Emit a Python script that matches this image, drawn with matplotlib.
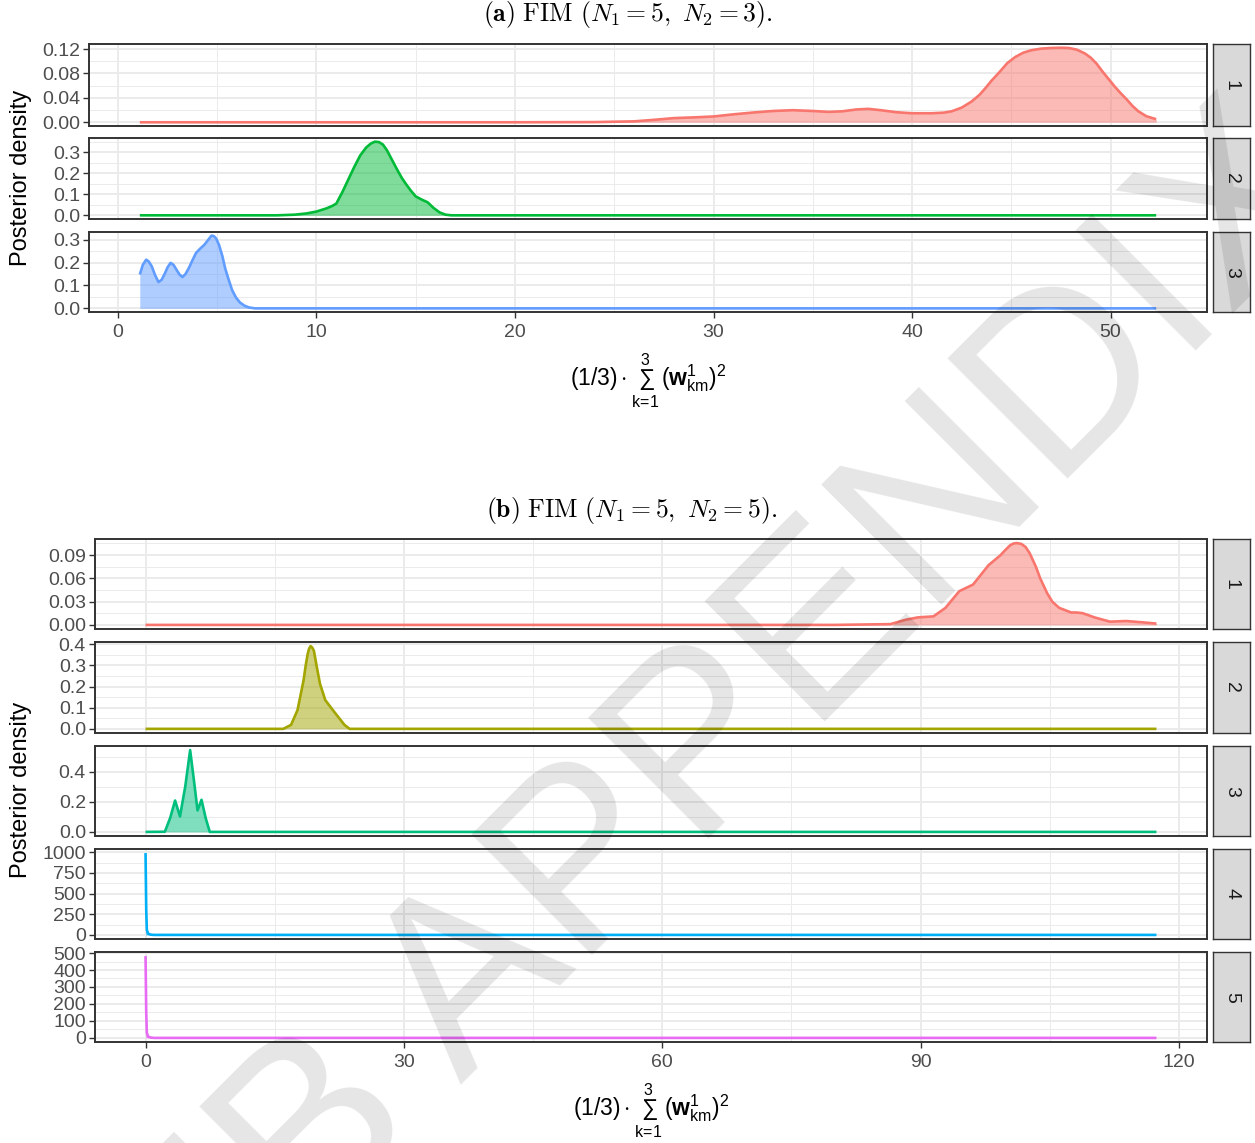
import numpy as np
import matplotlib.pyplot as plt
from matplotlib.ticker import FixedLocator, MultipleLocator

plt.rcParams['font.family'] = ['Liberation Sans', 'DejaVu Sans']
plt.rcParams['mathtext.fontset'] = 'custom'
plt.rcParams['mathtext.rm'] = 'Liberation Sans'
plt.rcParams['mathtext.bf'] = 'Liberation Sans:bold'
plt.rcParams['mathtext.it'] = 'Liberation Sans:italic'

# ---- panel (a): FIM (N1=5, N2=3), 3 components
a1_x = [1.1, 20.0, 24.0, 26.0, 27.0, 28.0, 29.0, 30.0, 31.0, 32.0, 33.0, 34.0, 35.0, 35.8, 36.5,
        37.2, 37.8, 38.5, 39.2, 40.0, 41.0, 41.6, 42.0, 42.5, 43.0, 43.4, 43.7, 44.0, 44.4, 44.8,
        45.2, 45.6, 46.0, 46.5, 47.0, 47.5, 47.9, 48.3, 48.7, 49.0, 49.3, 49.6, 49.9, 50.2, 50.5,
        50.8, 51.1, 51.4, 51.8, 52.3]
a1_y = [0.0, 0.0, 0.0003, 0.0015, 0.004, 0.0068, 0.008, 0.0095, 0.013, 0.016, 0.0185, 0.0198,
        0.0185, 0.017, 0.018, 0.021, 0.022, 0.0195, 0.0165, 0.0148, 0.0148, 0.0158, 0.018, 0.024,
        0.034, 0.045, 0.056, 0.068, 0.082, 0.097, 0.107, 0.114, 0.118, 0.1207, 0.1218, 0.1222,
        0.1218, 0.119, 0.113, 0.106, 0.096, 0.083, 0.071, 0.059, 0.048, 0.038, 0.027, 0.018,
        0.010, 0.005]
a2_x = [1.1, 8.0, 8.9, 9.5, 10.0, 10.5, 10.8, 11.0, 11.3, 11.6, 11.9, 12.2, 12.5, 12.75, 12.95,
        13.15, 13.35, 13.55, 13.8, 14.05, 14.3, 14.5, 14.75, 15.0, 15.3, 15.6, 15.9, 16.2, 16.5,
        16.8, 52.3]
a2_y = [0.0, 0.0, 0.003, 0.009, 0.018, 0.033, 0.045, 0.056, 0.11, 0.17, 0.23, 0.285, 0.323,
        0.343, 0.351, 0.349, 0.337, 0.31, 0.265, 0.22, 0.178, 0.15, 0.118, 0.09, 0.075, 0.062,
        0.035, 0.014, 0.003, 0.0, 0.0]
a3_x = [1.1, 1.25, 1.42, 1.55, 1.7, 1.87, 2.04, 2.2, 2.38, 2.5, 2.65, 2.8, 2.94, 3.1, 3.25,
        3.4, 3.58, 3.75, 3.93, 4.15, 4.35, 4.55, 4.71, 4.83, 4.95, 5.1, 5.26, 5.4, 5.57, 5.75,
        5.94, 6.15, 6.39, 6.6, 6.9, 52.3]
a3_y = [0.148, 0.19, 0.213, 0.205, 0.184, 0.145, 0.115, 0.125, 0.156, 0.18, 0.199, 0.19, 0.170,
        0.148, 0.137, 0.15, 0.178, 0.21, 0.242, 0.262, 0.278, 0.30, 0.318, 0.316, 0.305, 0.275,
        0.228, 0.175, 0.127, 0.08, 0.048, 0.025, 0.011, 0.004, 0.0, 0.0]

# ---- panel (b): FIM (N1=5, N2=5), 5 components
b1_x = [0.0, 80.0, 86.5, 88.3, 89.7, 91.5, 92.9, 94.5, 96.1, 97.9, 99.3, 99.8, 100.4, 100.8,
        101.2, 101.7, 102.2, 102.7, 103.4, 103.9, 104.7, 105.3, 106.1, 107.5, 108.1, 108.8,
        109.5, 110.2, 112.0, 113.9, 115.7, 117.4]
b1_y = [0.0, 0.0, 0.001, 0.0067, 0.0097, 0.011, 0.022, 0.0435, 0.052, 0.077, 0.090, 0.096,
        0.1026, 0.105, 0.1055, 0.1045, 0.1005, 0.092, 0.075, 0.060, 0.041, 0.03, 0.022, 0.016,
        0.016, 0.0152, 0.0125, 0.0097, 0.0042, 0.005, 0.0034, 0.0017]
b2_x = [0.0, 16.0, 16.9, 17.65, 18.35, 18.6, 18.83, 19.0, 19.17, 19.35, 19.55, 19.9, 20.26,
        20.87, 21.9, 23.1, 23.7, 117.4]
b2_y = [0.0, 0.0, 0.019, 0.089, 0.229, 0.30, 0.354, 0.38, 0.391, 0.385, 0.369, 0.29, 0.213,
        0.136, 0.081, 0.019, 0.0, 0.0]
b3_x = [0.0, 2.24, 2.86, 3.43, 4.0, 4.61, 5.18, 5.66, 6.04, 6.5, 6.98, 7.46, 117.4]
b3_y = [0.0, 0.001, 0.093, 0.209, 0.103, 0.302, 0.545, 0.324, 0.143, 0.214, 0.093, 0.0, 0.0]
b4_x = [0.0, 0.08, 0.15, 0.3, 0.6, 1.0, 117.4]
b4_y = [990, 300, 60, 15, 3, 0, 0]
b5_x = [0.0, 0.08, 0.15, 0.3, 0.6, 1.0, 117.4]
b5_y = [482, 150, 30, 8, 2, 0, 0]

a_yticks = [[0, 0.04, 0.08, 0.12], [0, 0.1, 0.2, 0.3], [0, 0.1, 0.2, 0.3]]
a_ylabels = [["0.00", "0.04", "0.08", "0.12"], ["0.0", "0.1", "0.2", "0.3"], ["0.0", "0.1", "0.2", "0.3"]]
b_yticks = [[0, 0.03, 0.06, 0.09], [0, 0.1, 0.2, 0.3, 0.4], [0, 0.2, 0.4],
            [0, 250, 500, 750, 1000], [0, 100, 200, 300, 400, 500]]
b_ylabels = [["0.00", "0.03", "0.06", "0.09"], ["0.0", "0.1", "0.2", "0.3", "0.4"],
             ["0.0", "0.2", "0.4"], ["0", "250", "500", "750", "1000"],
             ["0", "100", "200", "300", "400", "500"]]
a_xticks = [0, 10, 20, 30, 40, 50]
b_xticks = [0, 30, 60, 90, 120]

a_colors = ["#F8766D", "#00BA38", "#619CFF"]
b_colors = ["#F8766D", "#A3A500", "#00BF7D", "#00B0F6", "#E76BF3"]

W, H = 1255, 1143
fig = plt.figure(figsize=(W / 100, H / 100), dpi=100)


def px_axes(x0, y0, x1, y1):
    return fig.add_axes([x0 / W, 1 - y1 / H, (x1 - x0) / W, (y1 - y0) / H])


def facet(rows, xs, ys, cols, yticks, ylabels, xticks, xleft):
    xmin = min(min(x) for x in xs)
    xmax = max(max(x) for x in xs)
    pad = 0.05 * (xmax - xmin)
    xstep = xticks[1] - xticks[0]
    for i, (y0, y1) in enumerate(rows):
        ax = px_axes(xleft, y0, 1207, y1)
        x = np.array(xs[i])
        y = np.array(ys[i])
        ax.fill_between(x, 0, y, color=cols[i], alpha=0.5, lw=0)
        ax.plot(x, y, color=cols[i], lw=1.9, solid_capstyle='butt', solid_joinstyle='round')
        ymax = y.max()
        ax.set_xlim(xmin - pad, xmax + pad)
        ax.set_ylim(-0.05 * ymax, 1.05 * ymax)
        ax.xaxis.set_major_locator(FixedLocator(xticks))
        ax.xaxis.set_minor_locator(MultipleLocator(xstep / 2))
        ax.yaxis.set_major_locator(FixedLocator(yticks[i]))
        ax.yaxis.set_minor_locator(MultipleLocator((yticks[i][1] - yticks[i][0]) / 2))
        ax.set_yticklabels(ylabels[i])
        ax.grid(which='major', color='#EBEBEB', lw=1.4)
        ax.grid(which='minor', color='#EBEBEB', lw=0.7)
        ax.set_axisbelow(True)
        ax.tick_params(which='minor', length=0)
        ax.tick_params(which='major', length=4.5, width=1.0, color='#333333',
                       labelsize=14, labelcolor='#4D4D4D', pad=2)
        ax.tick_params(axis='x', pad=4)
        for s in ax.spines.values():
            s.set_color('#333333')
            s.set_linewidth(1.4)
        if i < len(rows) - 1:
            ax.tick_params(axis='x', length=0, labelbottom=False)
        else:
            ax.set_xticklabels([str(t) for t in xticks])
        # strip
        st = px_axes(1213, y0, 1250, y1)
        st.set_facecolor('#D9D9D9')
        st.set_xticks([])
        st.set_yticks([])
        for s in st.spines.values():
            s.set_color('#333333')
            s.set_linewidth(1.0)
        st.text(0.5, 0.5, str(i + 1), rotation=-90, ha='center', va='center',
                fontsize=14, color='#1A1A1A', transform=st.transAxes)


a_rows = [(44, 126), (138, 219), (232, 312)]
b_rows = [(539, 629), (642, 733), (746, 836), (849, 939), (952, 1042)]

facet(a_rows, [a1_x, a2_x, a3_x], [a1_y, a2_y, a3_y], a_colors, a_yticks, a_ylabels, a_xticks, 89)
facet(b_rows, [b1_x, b2_x, b3_x, b4_x, b5_x], [b1_y, b2_y, b3_y, b4_y, b5_y], b_colors,
      b_yticks, b_ylabels, b_xticks, 95)

xlab = r"$(1/3)\cdot\sum_{\mathrm{k\!=\!1}}^{3}\,(\mathbf{w}_{\mathrm{km}}^{1})^{2}$"
fig.text(648 / W, 1 - 381 / H, xlab, ha='center', va='center', fontsize=16.5)
fig.text(651 / W, 1 - 1111 / H, xlab, ha='center', va='center', fontsize=16.5)
fig.text(21 / W, 1 - 178 / H, "Posterior density", rotation=90, ha='center', va='center', fontsize=17)
fig.text(21 / W, 1 - 790 / H, "Posterior density", rotation=90, ha='center', va='center', fontsize=17)

fig.text(628 / W, 1 - 14 / H, r"$\mathbf{(a)}\ \mathrm{FIM}\ (N_1 = 5,\ N_2 = 3).$",
         ha='center', va='center', fontsize=18.5, math_fontfamily='cm')
fig.text(632 / W, 1 - 511 / H, r"$\mathbf{(b)}\ \mathrm{FIM}\ (N_1 = 5,\ N_2 = 5).$",
         ha='center', va='center', fontsize=18.5, math_fontfamily='cm')

# watermark
fig.text(685 / W, 1 - 862 / H, "WEB APPENDIX", rotation=45, rotation_mode='anchor',
         ha='center', va='baseline', fontsize=178, color='black', alpha=0.1, zorder=10)

fig.savefig("out.png", dpi=100)
